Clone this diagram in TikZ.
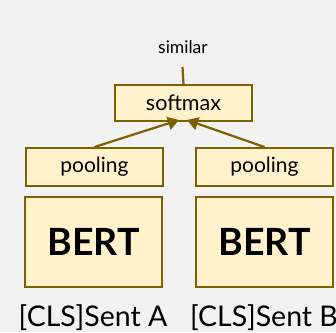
\documentclass[tikz,border=0pt]{standalone}
\usepackage{fontspec}
\setmainfont{Lato}
\usetikzlibrary{arrows.meta}
\definecolor{boxfill}{HTML}{FFF2CC}
\definecolor{boxline}{HTML}{7F6000}
\definecolor{bg}{HTML}{F2F2F2}
\begin{document}
\begin{tikzpicture}[x=1pt,y=-1pt,
  box/.style={draw=boxline,fill=boxfill,line width=2pt,inner sep=0pt,anchor=north west},
  link/.style={draw=boxline,line width=2.2pt},
  arr/.style={link,-{Triangle[length=11pt,width=13pt]}}]
\fill[bg] (0,0) rectangle (336,332);
\useasboundingbox (0,0) rectangle (336,332);

% outputs and pooling layers
\node[box,minimum width=137pt,minimum height=36pt] (soft) at (114,84) {\fontsize{21.5}{24}\selectfont softmax};
\node[box,minimum width=137pt,minimum height=38pt] (poolA) at (25,147) {\fontsize{21}{24}\selectfont pooling};
\node[box,minimum width=137pt,minimum height=38pt] (poolB) at (195,147) {\fontsize{21}{24}\selectfont pooling};

% encoders
\node[box,minimum width=137pt,minimum height=90pt] (bertA) at (24,196) {\fontsize{37.5}{40}\selectfont\bfseries BERT};
\node[box,minimum width=137pt,minimum height=90pt] (bertB) at (195,196) {\fontsize{37.5}{40}\selectfont\bfseries BERT};

% inputs
\node[anchor=center] (inA) at (93,318) {\fontsize{28.5}{30}\selectfont [CLS]Sent A};
\node[anchor=center] (inB) at (264,318) {\fontsize{28.5}{30}\selectfont [CLS]Sent B};

% result
\node[anchor=center] (sim) at (183,47) {\fontsize{17.5}{20}\selectfont similar};
\coordinate (simfoot) at (182.5,67);
\draw[link] (simfoot) -- (soft.north);

% pooling -> softmax
\coordinate (tipA) at (179,120);
\coordinate (tipB) at (187,120);
\draw[arr] (poolA.north) -- (tipA);
\draw[arr] (poolB.north) -- (tipB);
\end{tikzpicture}
\end{document}
